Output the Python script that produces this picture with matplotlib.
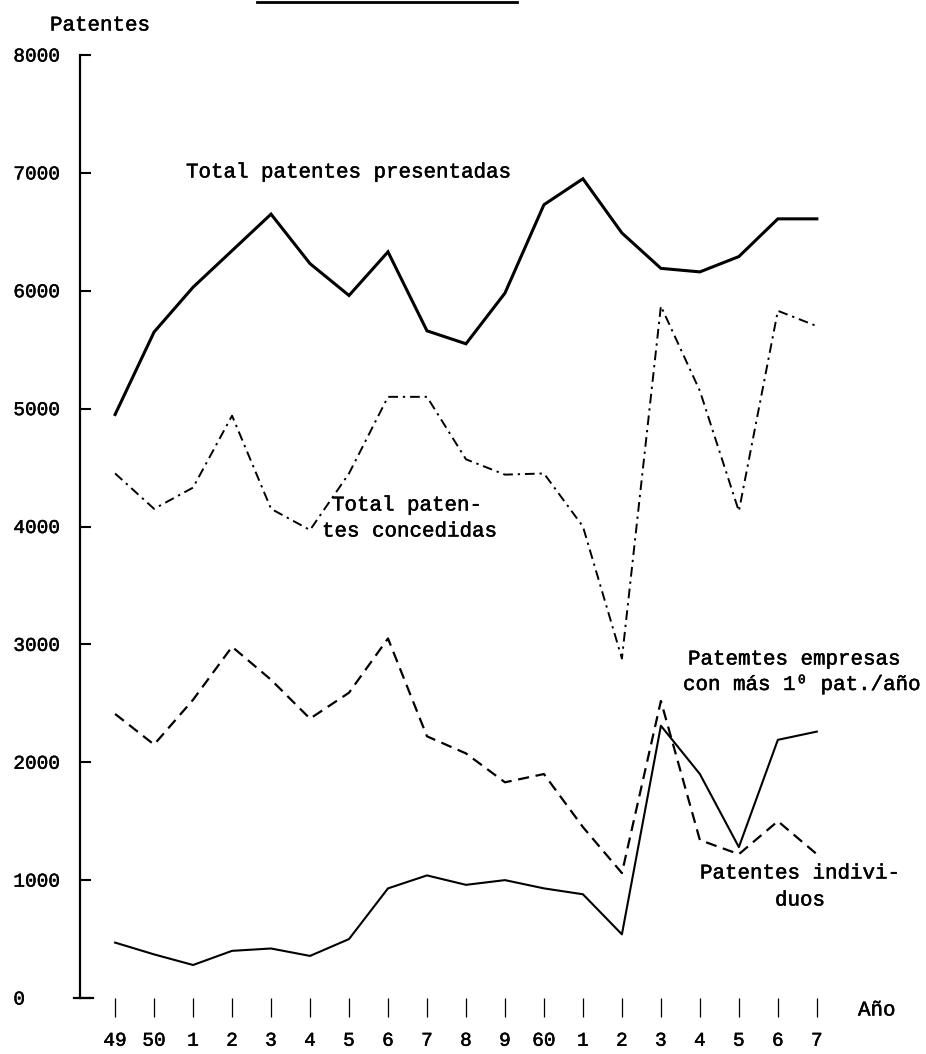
import matplotlib
matplotlib.use('Agg')
import matplotlib.pyplot as plt
import matplotlib.patheffects as pe
from matplotlib.lines import Line2D

# ---- data ----
years = list(range(49, 68))
year_labels = ['49', '50', '1', '2', '3', '4', '5', '6', '7', '8', '9',
               '60', '1', '2', '3', '4', '5', '6', '7']
presentadas = [4950, 5650, 6030, 6340, 6650, 6230, 5960, 6330, 5660, 5550,
               5980, 6730, 6950, 6490, 6190, 6160, 6290, 6610, 6610]
concedidas = [4450, 4150, 4330, 4940, 4150, 3970, 4450, 5100, 5100, 4570,
              4440, 4450, 4000, 2880, 5870, 5150, 4130, 5830, 5700]
individuos = [2410, 2150, 2530, 2980, 2700, 2370, 2590, 3050, 2220, 2075,
              1830, 1900, 1450, 1060, 2520, 1340, 1220, 1500, 1220]
empresas = [470, 370, 280, 400, 420, 357, 500, 930, 1040, 960,
            1000, 930, 880, 540, 2310, 1900, 1280, 2190, 2260]
y_ticks = [0, 1000, 2000, 3000, 4000, 5000, 6000, 7000, 8000]

FONT = ['Liberation Mono', 'DejaVu Sans Mono']
W, H = 926, 1054
thick = [pe.withStroke(linewidth=0.35, foreground='black')]

fig = plt.figure(figsize=(W / 100, H / 100), dpi=100)
ax = fig.add_axes([80 / W, 1 - 998 / H, 800 / W, (998 - 55) / H])
ax.set_xlim(48.10, 68.62)
ax.set_ylim(0, 8000)

# lines
ax.plot(years, presentadas, color='black', lw=2.2, solid_joinstyle='miter')
ax.plot(years, concedidas, color='black', lw=1.4, linestyle=(0, (5, 2.5, 1.2, 2.5)))
ax.plot(years, individuos, color='black', lw=1.6, linestyle=(0, (5, 3)))
ax.plot(years, empresas, color='black', lw=1.5)

# spines
for s in ['top', 'right', 'bottom']:
    ax.spines[s].set_visible(False)
ax.spines['left'].set_linewidth(1.6)
ax.plot([-0.007, 0.016], [0, 0], transform=ax.transAxes, color='black',
        lw=1.6, clip_on=False)

# y ticks
ax.set_yticks(y_ticks)
ax.set_yticklabels([str(v) for v in y_ticks], family=FONT, fontsize=14)
ax.tick_params(axis='y', direction='in', length=8, width=1.5, pad=48)
for lab in ax.get_yticklabels():
    lab.set_horizontalalignment('left')
    lab.set_path_effects(thick)

# x ticks
ax.set_xticks(years)
ax.set_xticklabels(year_labels, family=FONT, fontsize=14)
ax.tick_params(axis='x', direction='out', length=14, width=0.9, pad=11)
for lab in ax.get_xticklabels():
    lab.set_path_effects(thick)

# texts
def ftext(x, y, s, **kw):
    fig.text(x / W, 1 - y / H, s, family=FONT, fontsize=15, va='center',
             ha='left', path_effects=thick, **kw)

ftext(50, 25, 'Patentes')
ftext(186, 172, 'Total patentes presentadas')
ftext(332, 505, 'Total paten-')
ftext(322, 531, 'tes concedidas')
ftext(688, 659, 'Patemtes empresas')
ftext(683, 684, 'con más 1⁰ pat./año')
ftext(700, 873, 'Patentes indivi-')
ftext(775, 900, 'duos')
ftext(858, 1010, 'Año')

# cut-off underline at the top
fig.add_artist(Line2D([257 / W, 517 / W], [1 - 2 / H, 1 - 2 / H],
                      color='black', lw=2.0))

fig.savefig('out.png', dpi=100)
